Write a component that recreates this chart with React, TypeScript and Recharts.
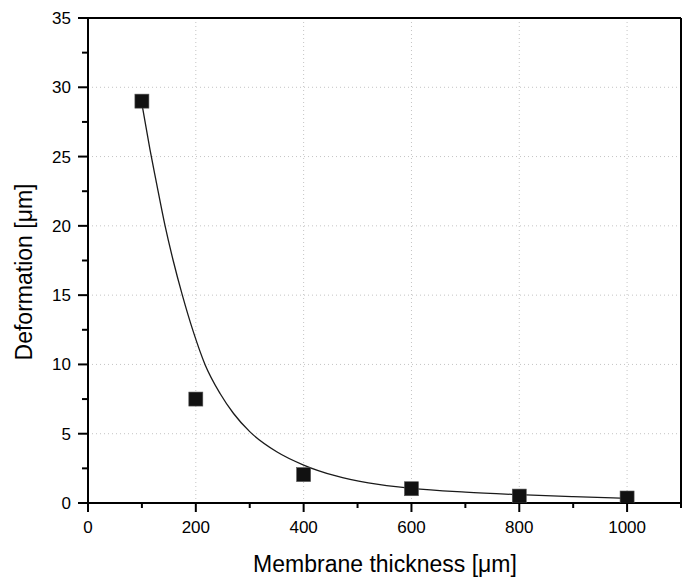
import React from 'react';
import { ComposedChart, Line, Scatter, XAxis, YAxis, CartesianGrid, ReferenceLine } from 'recharts';

// measured points (thickness in um, deformation in um)
const thickness = [100, 200, 400, 600, 800, 1000];
const deformation = [29, 7.5, 2.05, 1.03, 0.5, 0.36];

// fitted curve
const fitX = [100, 115, 126, 143, 158, 175, 195, 217, 245, 270, 300, 350, 400, 460, 520, 600, 700, 800, 900, 1000];
const fitY = [28.8, 25.5, 23.3, 20.0, 17.5, 15.0, 12.4, 10.0, 7.9, 6.46, 5.15, 3.7, 2.74, 1.95, 1.45, 1.05, 0.78, 0.6, 0.46, 0.34];

const xTicks = [0, 100, 200, 300, 400, 500, 600, 700, 800, 900, 1000, 1100];
const yTicks = [0, 2.5, 5, 7.5, 10, 12.5, 15, 17.5, 20, 22.5, 25, 27.5, 30, 32.5, 35];
const xGrid = [200, 400, 600, 800, 1000];
const yGrid = [5, 10, 15, 20, 25, 30];

const points = thickness.map((x, i) => ({ x, y: deformation[i] }));
const fit = fitX.map((x, i) => ({ x, y: fitY[i] }));

const FONT = '"Liberation Sans", Arial, sans-serif';

function XTick(props: any) {
  const { x, y, payload } = props;
  const v = payload.value as number;
  const major = v % 200 === 0;
  return (
    <g>
      <line x1={x} x2={x} y1={y} y2={y + (major ? 9 : 5)} stroke="#000" strokeWidth={2} />
      {major && v <= 1000 && (
        <text x={x} y={y + 30} textAnchor="middle" fontSize={17} fontFamily={FONT} fill="#000">
          {v}
        </text>
      )}
    </g>
  );
}

function YTick(props: any) {
  const { x, y, payload } = props;
  const v = payload.value as number;
  const major = v % 5 === 0;
  return (
    <g>
      <line x1={x} x2={x - (major ? 10 : 6)} y1={y} y2={y} stroke="#000" strokeWidth={2} />
      {major && (
        <text x={x - 17} y={y + 6} textAnchor="end" fontSize={17} fontFamily={FONT} fill="#000">
          {v}
        </text>
      )}
    </g>
  );
}

function Square(props: any) {
  const { cx, cy } = props;
  return <rect x={cx - 7} y={cy - 7} width={14} height={14} fill="#111" stroke="#555" strokeWidth={0.6} />;
}

export default function App() {
  return (
    <div style={{ position: 'absolute', left: 0, top: 0, width: 685, height: 579, background: '#fff' }}>
      <ComposedChart width={685} height={579} margin={{ top: 18, right: 4, left: 0, bottom: 0 }}>
        <CartesianGrid
          horizontalValues={yGrid}
          verticalValues={xGrid}
          stroke="#c4c4c4"
          strokeDasharray="1 3"
        />
        <XAxis
          dataKey="x"
          type="number"
          domain={[0, 1100]}
          ticks={xTicks}
          interval={0}
          allowDataOverflow
          height={76}
          tickSize={0}
          tickMargin={0}
          tickLine={false}
          axisLine={{ stroke: '#000', strokeWidth: 2 }}
          tick={<XTick />}
        />
        <YAxis
          dataKey="y"
          type="number"
          domain={[0, 35]}
          ticks={yTicks}
          interval={0}
          allowDataOverflow
          width={88}
          tickSize={0}
          tickMargin={0}
          tickLine={false}
          axisLine={{ stroke: '#000', strokeWidth: 2 }}
          tick={<YTick />}
        />
        <ReferenceLine y={35} stroke="#000" strokeWidth={2} />
        <ReferenceLine x={1100} stroke="#000" strokeWidth={2} />
        <Line
          data={fit}
          dataKey="y"
          type="monotone"
          stroke="#1a1a1a"
          strokeWidth={1.3}
          dot={false}
          activeDot={false}
          isAnimationActive={false}
        />
        <Scatter data={points} dataKey="y" shape={<Square />} isAnimationActive={false} />
      </ComposedChart>
      <svg width={685} height={579} style={{ position: 'absolute', left: 0, top: 0, pointerEvents: 'none' }}>
        <text x={385} y={572} textAnchor="middle" fontSize={23} fontFamily={FONT} fill="#000">
          Membrane thickness [μm]
        </text>
        <text
          x={32}
          y={272}
          textAnchor="middle"
          fontSize={23}
          fontFamily={FONT}
          fill="#000"
          transform="rotate(-90 32 272)"
        >
          Deformation [μm]
        </text>
      </svg>
    </div>
  );
}
